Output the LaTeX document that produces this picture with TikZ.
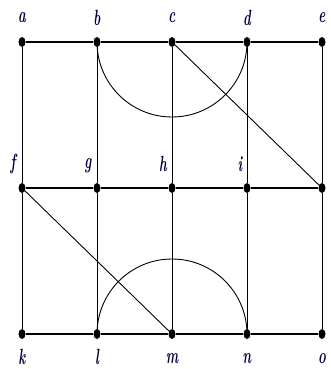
\documentclass[tikz,border=0pt]{standalone}
\usepackage{graphicx}
\usetikzlibrary{shapes.geometric}
\tikzset{
  vtx/.style={ellipse, fill=black, inner sep=0pt, minimum width=7pt, minimum height=10pt},
  lbl/.style={text=blue!25!black, font=\fontsize{22}{24}\selectfont\bfseries\itshape, inner sep=0pt},
  row/.style={line width=1.7pt},
  col/.style={line width=0.9pt}
}
\newcommand{\lab}[1]{\scalebox{0.6}[1]{#1}}
\begin{document}
\begin{tikzpicture}[x=1pt, y=-1pt]
    \useasboundingbox (0,0) rectangle (331,369);

    % 顶点
    \node[vtx] (a) at (22,42) {};
    \node[vtx] (b) at (97,42) {};
    \node[vtx] (c) at (172,42) {};
    \node[vtx] (d) at (247,42) {};
    \node[vtx] (e) at (322,42) {};
    \node[vtx] (f) at (22,188) {};
    \node[vtx] (g) at (97,188) {};
    \node[vtx] (h) at (172,188) {};
    \node[vtx] (i) at (247,188) {};
    \node[vtx] (j) at (322,188) {};
    \node[vtx] (k) at (22,334) {};
    \node[vtx] (l) at (97,334) {};
    \node[vtx] (m) at (172,334) {};
    \node[vtx] (n) at (247,334) {};
    \node[vtx] (o) at (322,334) {};

    % 竖线
    \foreach \u/\v/\w in {a/f/k, b/g/l, c/h/m, d/i/n, e/j/o}
        \draw[col] (\u) -- (\v) -- (\w);

    % 横线
    \draw[row] (a) -- (b) -- (c) -- (d) -- (e);
    \draw[row] (f) -- (g) -- (h) -- (i) -- (j);
    \draw[row] (k) -- (l) -- (m) -- (n) -- (o);

    % 斜线
    \draw[col] (c.center) -- (j.center);
    \draw[col] (f.center) -- (m.center);

    % 半圆
    \draw[col] (b.center) arc[start angle=180, end angle=0, radius=75];
    \draw[col] (l.center) arc[start angle=180, end angle=360, radius=75];

    % 标签
    \node[lbl] at (22,18) {\lab{a}};
    \node[lbl] at (97,18) {\lab{b}};
    \node[lbl] at (172,18) {\lab{c}};
    \node[lbl] at (247,18) {\lab{d}};
    \node[lbl] at (322,18) {\lab{e}};
    \node[lbl] at (13,164) {\lab{f}};
    \node[lbl] at (88,166) {\lab{g}};
    \node[lbl] at (163,164) {\lab{h}};
    \node[lbl] at (240,164) {\lab{i}};
    \node[lbl] at (22,357) {\lab{k}};
    \node[lbl] at (97,357) {\lab{l}};
    \node[lbl] at (172,359) {\lab{m}};
    \node[lbl] at (247,359) {\lab{n}};
    \node[lbl] at (322,359) {\lab{o}};
\end{tikzpicture}
\end{document}
